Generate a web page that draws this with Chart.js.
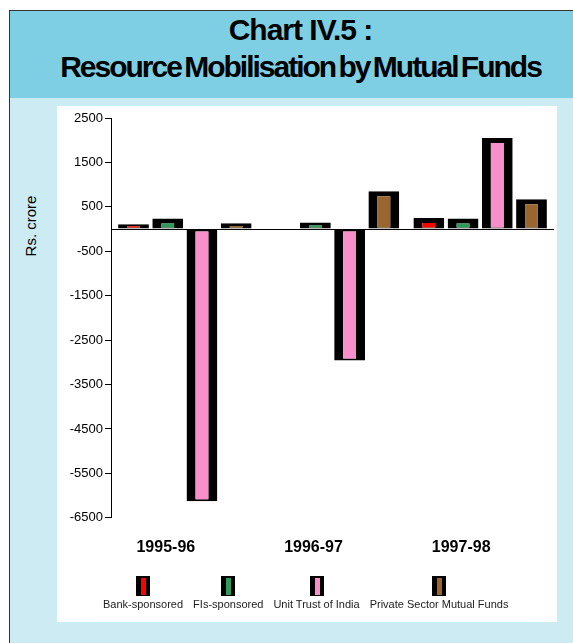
<!DOCTYPE html>
<html>
<head>
<meta charset="utf-8">
<script src="https://cdn.jsdelivr.net/npm/chart.js@4"></script>
<style>
  html, body { margin:0; padding:0; background:#fff; width:573px; height:643px; overflow:hidden; font-family:"Liberation Sans", Arial, sans-serif; }
  #frame { position:absolute; left:9px; top:10px; width:600px; height:650px; border-left:1px solid #333; border-top:1px solid #333; background:#cdebf3; }
  #header { position:absolute; left:10px; top:11px; width:563px; height:87px; background:#7ecfe3; text-align:center; font-weight:bold; color:#000; }
  #t1 { position:absolute; left:9px; width:563px; top:1px; font-size:30px; line-height:36px; letter-spacing:-1px; }
  #t2 { position:absolute; left:9px; width:563px; top:38px; font-size:30px; line-height:36px; letter-spacing:-2px; word-spacing:-3px; }
  #plotbg { position:absolute; left:57px; top:106px; width:500px; height:516px; background:#fff; }
  #ytitle { position:absolute; left:30px; top:226px; transform:translate(-50%,-50%) rotate(-90deg); font-size:15px; color:#000; white-space:nowrap; }
  #chartwrap { position:absolute; left:0; top:98px; width:573px; height:545px; }
  #legend { position:absolute; left:103px; top:576px; display:flex; gap:10px; }
  .li { display:flex; flex-direction:column; align-items:center; }
  .box { width:14px; height:20px; background:#000; position:relative; }
  .stripe { position:absolute; left:5px; top:2px; width:5px; height:17px; }
  .lt { font-size:11px; line-height:13px; color:#222; white-space:nowrap; margin-top:2px; }
</style>
</head>
<body>
<div id="frame"></div>
<div id="header"><div id="t1">Chart IV.5 :</div><div id="t2">Resource Mobilisation by Mutual Funds</div></div>
<div id="plotbg"></div>
<div id="ytitle">Rs. crore</div>
<div id="chartwrap"><canvas id="c" width="573" height="545"></canvas></div>
<div id="legend"></div>
<script>
const categories = ['1995-96', '1996-97', '1997-98'];
const seriesNames = ['Bank-sponsored', 'FIs-sponsored', 'Unit Trust of India', 'Private Sector Mutual Funds'];
const bankSponsored = [110, -20, 250];
const fisSponsored = [240, 150, 240];
const unitTrust = [-6130, -2960, 2050];
const privateSector = [130, 850, 670];
const yTickValues = [2500, 1500, 500, -500, -1500, -2500, -3500, -4500, -5500, -6500];
const seriesColors = ['#ff0000', '#2f9a5c', '#f88fcb', '#9a6630'];

const seriesValues = [bankSponsored, fisSponsored, unitTrust, privateSector];
const fontFam = '"Liberation Sans", Arial, sans-serif';

const datasets = seriesNames.map((name, i) => ({
  label: name,
  data: seriesValues[i],
  backgroundColor: seriesColors[i],
  borderColor: '#000',
  borderSkipped: false,
  borderWidth: (ctx) => (ctx.raw < 0 ? {left: 9, right: 9, top: 2, bottom: 2} : {left: 9, right: 9, top: 5, bottom: 1}),
  categoryPercentage: 0.927,
  barPercentage: 0.9
}));

new Chart(document.getElementById('c'), {
  type: 'bar',
  data: { labels: categories, datasets: datasets },
  options: {
    responsive: false,
    animation: false,
    layout: { padding: { left: 0, right: 19, top: 20, bottom: 74 } },
    plugins: { legend: { display: false }, tooltip: { enabled: false } },
    scales: {
      x: {
        grid: { display: false },
        border: { display: false },
        ticks: {
          labelOffset: -19,
          padding: 12,
          color: '#000',
          font: { family: fontFam, size: 16, weight: 'bold' }
        }
      },
      y: {
        min: -6500,
        max: 2500,
        afterBuildTicks: (scale) => {
          scale.ticks = yTickValues.concat([0]).map(v => ({ value: v }));
        },
        afterFit: (scale) => { scale.width = 111; },
        border: { display: true, color: '#000', width: 1 },
        grid: {
          drawOnChartArea: true,
          color: (ctx) => (ctx.tick && ctx.tick.value === 0 ? '#000' : 'rgba(0,0,0,0)'),
          tickColor: (ctx) => (ctx.tick && ctx.tick.value === 0 ? 'rgba(0,0,0,0)' : '#000'),
          tickLength: 6
        },
        ticks: {
          padding: 2,
          color: '#000',
          font: { family: fontFam, size: 13 },
          callback: (v) => (v === 0 ? '' : String(v))
        }
      }
    }
  }
});

const legend = document.getElementById('legend');
seriesNames.forEach((name, i) => {
  const item = document.createElement('div');
  item.className = 'li';
  const box = document.createElement('div');
  box.className = 'box';
  const stripe = document.createElement('div');
  stripe.className = 'stripe';
  stripe.style.background = seriesColors[i];
  box.appendChild(stripe);
  const t = document.createElement('div');
  t.className = 'lt';
  t.textContent = name;
  item.appendChild(box);
  item.appendChild(t);
  legend.appendChild(item);
});
</script>
</body>
</html>
